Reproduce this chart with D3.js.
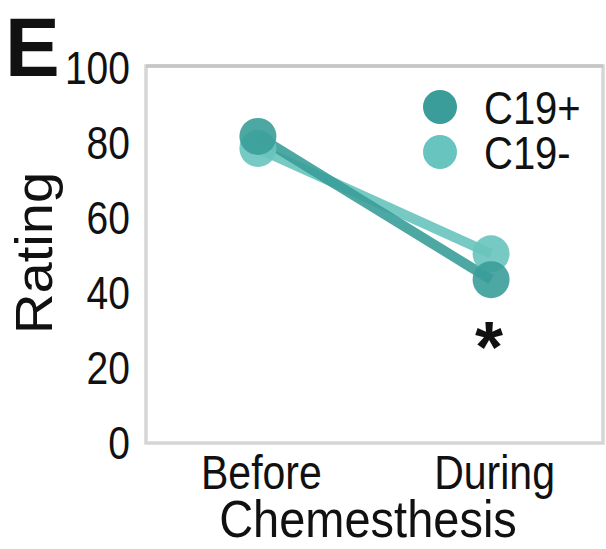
<!DOCTYPE html>
<html>
<head>
<meta charset="utf-8">
<script src="https://cdn.jsdelivr.net/npm/d3@7"></script>
<style>
  html, body { margin: 0; padding: 0; background: #fff; }
  svg { display: block; }
  text { font-family: "Liberation Sans", Arial, sans-serif; fill: #111; }
</style>
</head>
<body>
<svg id="chart" width="606" height="549"></svg>
<script>
// Rating of chemesthesis before vs during illness
const phases = ["Before", "During"];
const groups = ["C19+", "C19-"];
const c19pos = [81.5, 43.3];
const c19neg = [78.3, 50.2];
const yTicks = [0, 20, 40, 60, 80, 100];
const colors = { "C19+": "#3a9d99", "C19-": "#68c4be" };

const svg = d3.select("#chart");
const frame = { left: 146, right: 603, top: 66, bottom: 443 };
const stretch = 1.17; // taller-than-wide lettering

const x = d3.scalePoint().domain(phases).range([frame.left, frame.right]).padding(0.48);
const y = d3.scaleLinear().domain([0, 100]).range([442, 67]);

// plot frame
svg.append("rect")
  .attr("x", frame.left).attr("y", frame.top)
  .attr("width", frame.right - frame.left).attr("height", frame.bottom - frame.top)
  .attr("fill", "none").attr("stroke", "#d6d6d6").attr("stroke-width", 3.5);
svg.append("line")
  .attr("x1", frame.left).attr("x2", frame.right)
  .attr("y1", frame.top).attr("y2", frame.top)
  .attr("stroke", "#c6c6c6").attr("stroke-width", 3.5);

function label(g, txt, tx, ty, opts) {
  const o = Object.assign({ size: 39, anchor: "middle", weight: "normal", rotate: 0, sy: stretch }, opts || {});
  const t = g.append("text")
    .attr("transform", `translate(${tx},${ty}) rotate(${o.rotate}) scale(${o.rotate ? o.sy : 1},${o.rotate ? 1 : o.sy})`)
    .attr("text-anchor", o.anchor)
    .style("font-size", o.size + "px")
    .style("font-weight", o.weight)
    .text(txt);
  if (o.dy) t.attr("dy", o.dy);
  return t;
}

// y axis tick labels
const yAxis = d3.axisLeft(y).tickValues(yTicks).tickSize(0).tickPadding(16);
const gy = svg.append("g").attr("transform", `translate(${frame.left},0)`).call(yAxis);
gy.select(".domain").remove();
gy.selectAll(".tick text").remove();
gy.selectAll(".tick").each(function(d) {
  label(d3.select(this), String(d), -16, 0, { anchor: "end", dy: "0.36em" });
});

// x axis category labels
const xAxis = d3.axisBottom(x).tickSize(0);
const gx = svg.append("g").attr("transform", `translate(0,${frame.bottom})`).call(xAxis);
gx.select(".domain").remove();
gx.selectAll(".tick text").remove();
gx.selectAll(".tick").each(function(d) {
  label(d3.select(this), d, 3, 46, { size: 41 });
});

// axis titles
label(svg, "Chemesthesis", 368, 537, { size: 47, sy: 1.12 });
label(svg, "Rating", 52, 253, { size: 51, rotate: -90, sy: 1.1 });

// panel letter
label(svg, "E", 5, 76, { size: 82, anchor: "start", weight: "bold", sy: 1.02 });

// lines and points
const series = [
  { name: "C19-", values: c19neg },
  { name: "C19+", values: c19pos }
];
const line = d3.line().x((d, i) => x(phases[i])).y(d => y(d));
series.forEach(s => {
  svg.append("path")
    .attr("d", line(s.values))
    .attr("fill", "none")
    .attr("stroke", colors[s.name])
    .attr("stroke-width", 10)
    .attr("stroke-opacity", 0.9);
});
series.forEach(s => {
  svg.selectAll(null).data(s.values).enter().append("circle")
    .attr("cx", (d, i) => x(phases[i]))
    .attr("cy", d => y(d))
    .attr("r", 18.5)
    .attr("fill", colors[s.name])
    .attr("fill-opacity", 0.9);
});

// significance marker
label(svg, "*", x("During") - 2, 372, { size: 72, weight: "bold", sy: 1 });

// legend
const legend = svg.append("g");
groups.forEach((gname, i) => {
  const ly = 107 + i * 45;
  legend.append("circle").attr("cx", 440).attr("cy", ly).attr("r", 17).attr("fill", colors[gname]);
  label(legend, gname, 484, ly, { anchor: "start", size: 40, dy: "0.36em" });
});
</script>
</body>
</html>
